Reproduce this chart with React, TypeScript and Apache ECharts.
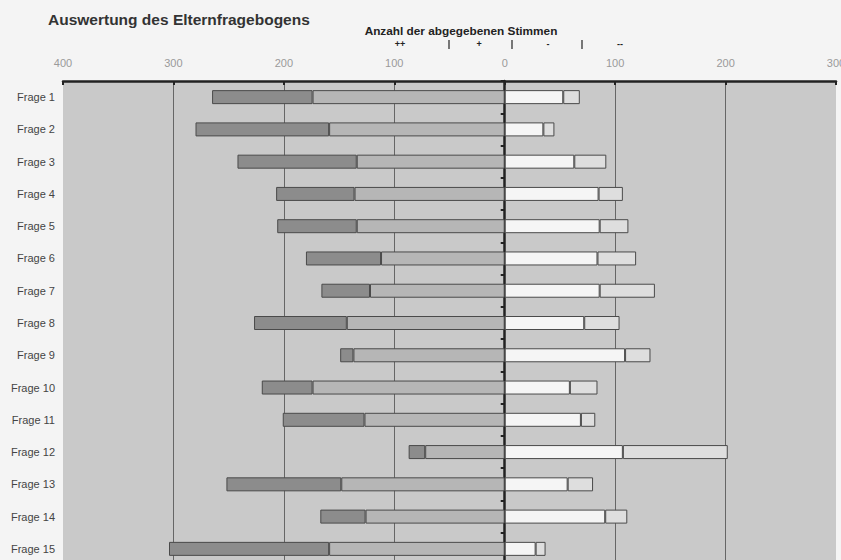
import React, { useEffect, useRef } from "react";
import * as echarts from "echarts";

const categories = [
  "Frage 1", "Frage 2", "Frage 3", "Frage 4", "Frage 5",
  "Frage 6", "Frage 7", "Frage 8", "Frage 9", "Frage 10",
  "Frage 11", "Frage 12", "Frage 13", "Frage 14", "Frage 15",
];
// votes per answer (++ and + drawn to the left)
const plusPlus = [91, 121, 108, 71, 72, 68, 44, 84, 12, 46, 74, 15, 104, 41, 145];
const plus = [174, 159, 134, 136, 134, 112, 122, 143, 137, 174, 127, 72, 148, 126, 159];
const minus = [53, 35, 63, 85, 86, 84, 86, 72, 109, 59, 69, 107, 57, 91, 28];
const minusMinus = [15, 10, 29, 22, 26, 35, 50, 32, 23, 25, 13, 95, 23, 20, 9];
const legendMarks = ["++", "+", "-", "--"];
const legendX = [400, 479, 548, 620];
const separatorX = [449, 512, 582];

export default function App() {
  const ref = useRef<HTMLDivElement>(null);
  useEffect(() => {
    if (!ref.current) return;
    const chart = echarts.init(ref.current, null, { renderer: "svg" });
    const barBase = {
      type: "bar" as const,
      stack: "total",
      barWidth: 14,
      itemStyle: { borderColor: "#4a4a4a", borderWidth: 1 },
    };
    chart.setOption({
      animation: false,
      backgroundColor: "#f4f4f4",
      textStyle: { fontFamily: "Liberation Sans, Arial, sans-serif" },
      grid: {
        left: 63,
        top: 81,
        width: 773,
        height: 484,
        show: true,
        backgroundColor: "#c9c9c9",
        borderWidth: 0,
        outerBoundsMode: "none",
        containLabel: false,
      },
      xAxis: {
        type: "value",
        position: "top",
        min: -400,
        max: 300,
        interval: 100,
        axisLine: { show: true, onZero: false, lineStyle: { color: "#222", width: 2.5 } },
        axisTick: { show: true, inside: true, length: 4, lineStyle: { color: "#222", width: 2 } },
        axisLabel: {
          color: "#9a9a9a",
          fontSize: 11,
          margin: 13,
          formatter: (v: number) => String(Math.abs(v)),
        },
        splitLine: {
          show: true,
          showMinLine: false,
          showMaxLine: false,
          lineStyle: { color: "#666", width: 1 },
        },
      },
      yAxis: [
        {
          type: "category",
          data: categories,
          inverse: true,
          axisLine: { show: false, onZero: false },
          axisTick: { show: false },
          axisLabel: { color: "#444", fontSize: 11, margin: 8 },
          splitLine: { show: false },
        },
        {
          type: "category",
          data: categories,
          inverse: true,
          position: "left",
          axisLine: { show: true, onZero: true, lineStyle: { color: "#222", width: 2.5 } },
          axisTick: { show: true, length: 4, lineStyle: { color: "#222", width: 2 } },
          axisLabel: { show: false },
          splitLine: { show: false },
        },
      ],
      series: [
        { ...barBase, name: "+", data: plus.map((v) => -v), itemStyle: { ...barBase.itemStyle, color: "#b6b6b6" } },
        { ...barBase, name: "++", data: plusPlus.map((v) => -v), itemStyle: { ...barBase.itemStyle, color: "#8c8c8c" } },
        { ...barBase, name: "-", data: minus, itemStyle: { ...barBase.itemStyle, color: "#f5f5f5" } },
        { ...barBase, name: "--", data: minusMinus, itemStyle: { ...barBase.itemStyle, color: "#dedede" } },
      ],
      graphic: [
        {
          type: "text",
          left: 48,
          top: 11,
          style: {
            text: "Auswertung des Elternfragebogens",
            fontSize: 15.5,
            fontWeight: "bold",
            fill: "#333",
            fontFamily: "Liberation Sans, Arial, sans-serif",
          },
        },
        {
          type: "text",
          x: 461,
          y: 31,
          style: {
            text: "Anzahl der abgegebenen Stimmen",
            fontSize: 11.8,
            fontWeight: "bold",
            fill: "#222",
            align: "center",
            verticalAlign: "middle",
            fontFamily: "Liberation Sans, Arial, sans-serif",
          },
        },
        ...legendMarks.map((t, i) => ({
          type: "text",
          x: legendX[i],
          y: 44,
          style: {
            text: t,
            fontSize: 9,
            fontWeight: "bold",
            fill: "#222",
            align: "center",
            verticalAlign: "middle",
            fontFamily: "Liberation Sans, Arial, sans-serif",
          },
        })),
        ...separatorX.map((x) => ({
          type: "line",
          shape: { x1: x, y1: 40, x2: x, y2: 49 },
          style: { stroke: "#333", lineWidth: 1.3 },
        })),
      ],
    });
    return () => chart.dispose();
  }, []);
  return (
    <div
      ref={ref}
      style={{ position: "absolute", left: 0, top: 0, width: 841, height: 560, overflow: "hidden" }}
    />
  );
}
